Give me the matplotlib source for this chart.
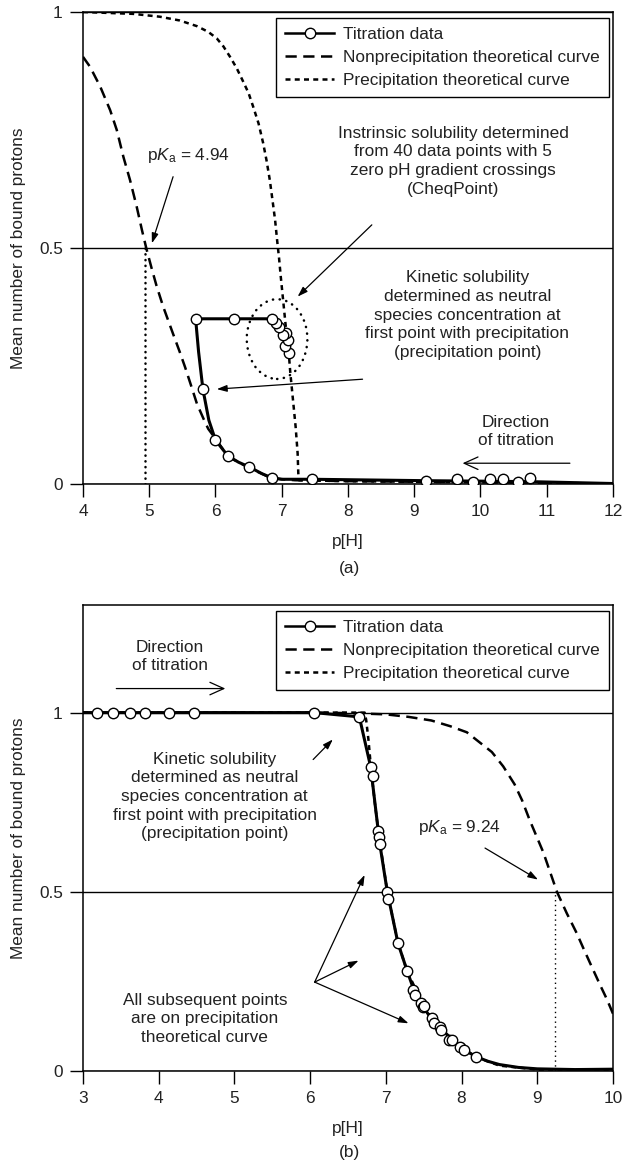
import numpy as np
import matplotlib as mpl
mpl.use('Agg')
import matplotlib.pyplot as plt
from matplotlib.lines import Line2D
from matplotlib.patches import Ellipse

plt.rcParams['font.family'] = ['Liberation Sans', 'DejaVu Sans']
plt.rcParams['mathtext.fontset'] = 'custom'
plt.rcParams['mathtext.rm'] = 'Liberation Sans'
plt.rcParams['mathtext.it'] = 'Liberation Sans:italic'

TXT = '#222222'
FS = 12.4
LSP = 1.3

# ---- panel (a) ----
a_pts_x = [10.75, 10.56, 10.34, 10.15, 9.89, 9.65, 9.18, 7.46,
           7.11, 7.05, 7.10, 7.06, 7.02, 6.96, 6.91, 6.85,
           6.28, 5.70, 5.81, 6.00, 6.19, 6.51, 6.85]
a_pts_y = [0.013, 0.004, 0.011, 0.011, 0.004, 0.011, 0.007, 0.011,
           0.278, 0.292, 0.305, 0.319, 0.315, 0.333, 0.342, 0.350,
           0.350, 0.350, 0.201, 0.093, 0.059, 0.036, 0.013]

a_line_x = [7.11, 7.10, 7.06, 6.96, 6.91, 6.85, 6.28, 5.70, 5.745, 5.81, 5.90, 6.00,
            6.19, 6.35, 6.51, 6.70, 6.85, 7.00, 7.46, 9.18, 10.0, 10.75, 12.0]
a_line_y = [0.278, 0.305, 0.319, 0.333, 0.342, 0.350, 0.350, 0.350, 0.28, 0.201, 0.135, 0.093,
            0.059, 0.046, 0.036, 0.022, 0.013, 0.010, 0.010, 0.007, 0.006, 0.005, 0.001]

a_nonp_x = [4.0, 4.106, 4.26, 4.41, 4.51, 4.61, 4.71, 4.81, 4.89, 4.96, 5.04, 5.11,
            5.21, 5.36, 5.46, 5.54, 5.64, 5.72, 5.82, 5.89, 6.02,
            6.19, 6.51, 6.85, 7.2, 8.0, 12.0]
a_nonp_y = [0.905, 0.884, 0.842, 0.792, 0.750, 0.693, 0.644, 0.588, 0.538, 0.497, 0.455, 0.420,
            0.376, 0.318, 0.280, 0.248, 0.205, 0.170, 0.138, 0.117, 0.092,
            0.058, 0.034, 0.012, 0.008, 0.006, 0.001]

a_prec_x = [4.0, 4.76, 5.16, 5.46, 5.72, 5.89, 6.02, 6.12, 6.22, 6.32, 6.42, 6.50,
            6.57, 6.65, 6.72, 6.77, 6.82, 6.86, 6.90, 6.93, 6.96, 6.985, 7.01,
            7.035, 7.06, 7.10, 7.13, 7.17, 7.21, 7.24, 7.25, 7.26, 8.0, 12.0]
a_prec_y = [1.0, 0.996, 0.990, 0.982, 0.970, 0.958, 0.944, 0.927, 0.905, 0.881, 0.852, 0.828,
            0.799, 0.764, 0.722, 0.686, 0.644, 0.602, 0.559, 0.517, 0.478, 0.440, 0.405,
            0.370, 0.335, 0.288, 0.235, 0.178, 0.121, 0.065, 0.023, 0.008, 0.006, 0.001]

a_pka = 4.94

# ---- panel (b) ----
b_pts_x = [3.18, 3.40, 3.62, 3.82, 4.14, 4.47, 6.05, 6.65, 6.80, 6.83, 6.90, 6.91, 6.92,
           7.02, 7.03, 7.16, 7.28, 7.36, 7.39, 7.47, 7.49, 7.51, 7.61, 7.63, 7.72, 7.73,
           7.83, 7.88, 7.98, 8.03, 8.19]
b_pts_y = [1.0, 1.0, 1.0, 1.0, 1.0, 1.0, 1.0, 0.988, 0.848, 0.822, 0.670, 0.654, 0.634,
           0.499, 0.480, 0.357, 0.280, 0.226, 0.212, 0.189, 0.178, 0.180, 0.149, 0.133, 0.124, 0.115,
           0.087, 0.087, 0.068, 0.059, 0.040]

b_line_x = [3.0, 6.05, 6.65, 6.80, 6.92, 7.02, 7.16, 7.28, 7.38, 7.49, 7.62, 7.73, 7.88,
            8.03, 8.19, 8.35, 8.5, 8.75, 9.0, 9.5, 10.0]
b_line_y = [1.0, 1.0, 0.988, 0.848, 0.634, 0.499, 0.357, 0.280, 0.220, 0.180, 0.140, 0.118, 0.087,
            0.060, 0.040, 0.027, 0.018, 0.010, 0.006, 0.004, 0.005]

b_nonp_x = [6.1, 6.6, 7.0, 7.3, 7.6, 7.85, 8.07, 8.25, 8.4, 8.55, 8.7, 8.8, 8.9, 9.0, 9.08,
            9.17, 9.26, 9.39, 9.52, 9.61, 9.70, 9.83, 9.92, 10.0]
b_nonp_y = [1.0, 0.998, 0.995, 0.988, 0.978, 0.962, 0.945, 0.915, 0.89, 0.85, 0.80, 0.755,
            0.70, 0.65, 0.61, 0.555, 0.50, 0.44, 0.385, 0.342, 0.30, 0.24, 0.20, 0.16]

b_prec_x = [3.0, 6.72, 6.74, 6.77, 6.81, 6.86, 6.92, 7.02, 7.16, 7.28, 7.5, 7.7, 8.0, 8.2,
            8.5, 9.0, 10.0]
b_prec_y = [1.0, 1.0, 0.980, 0.925, 0.832, 0.738, 0.640, 0.50, 0.357, 0.28, 0.18, 0.12, 0.065, 0.038,
            0.015, 0.004, 0.003]

b_pka = 9.24

legend_labels = ['Titration data', 'Nonprecipitation theoretical curve',
                 'Precipitation theoretical curve']

LW = 1.8
DASH_LONG = (4.5, 2.6)
DASH_SHORT = (2.0, 1.7)
HEAD = '-|>,head_length=0.6,head_width=0.2'


def style_axes(ax, xlim, ylim, xticks):
    ax.set_xlim(*xlim)
    ax.set_ylim(*ylim)
    ax.set_xticks(xticks)
    ax.set_xticklabels([str(t) for t in xticks])
    ax.set_yticks([0, 0.5, 1])
    ax.set_yticklabels(['0', '0.5', '1'])
    ax.tick_params(direction='out', length=9.5, width=1, colors='black',
                   labelcolor=TXT, labelsize=FS, pad=5)
    for s in ax.spines.values():
        s.set_linewidth(1.1)
    ax.yaxis.grid(True, color='black', lw=1.0)
    ax.set_axisbelow(True)
    ax.set_xlabel('p[H]', fontsize=FS, color=TXT, labelpad=11)
    ax.set_ylabel('Mean number of bound protons', fontsize=FS, color=TXT, labelpad=9)


def add_legend(ax):
    h = [Line2D([], [], color='black', lw=LW, marker='o', markersize=7.5,
                markerfacecolor='white', markeredgecolor='black', markeredgewidth=1),
         Line2D([], [], color='black', lw=LW, dashes=DASH_LONG),
         Line2D([], [], color='black', lw=LW, dashes=DASH_SHORT)]
    leg = ax.legend(h, legend_labels, loc='upper right', bbox_to_anchor=(0.993, 0.988),
                    borderaxespad=0, fontsize=FS, fancybox=False, framealpha=1,
                    edgecolor='black', handlelength=2.85, handletextpad=0.52,
                    labelspacing=0.45, borderpad=0.55)
    leg.get_frame().set_linewidth(1.0)
    for t in leg.get_texts():
        t.set_color(TXT)


def arrow(ax, xy, xytext, style=HEAD):
    ax.annotate('', xy=xy, xytext=xytext,
                arrowprops=dict(arrowstyle=style, lw=0.9, color='black',
                                shrinkA=0, shrinkB=0))


fig = plt.figure(figsize=(6.23, 11.64), dpi=100)

# ---------------- (a) ----------------
ax = fig.add_axes([0.1332, 0.5842, 0.8507, 0.4055])
style_axes(ax, (4, 12), (0, 1), [4, 5, 6, 7, 8, 9, 10, 11, 12])

ax.plot(a_nonp_x, a_nonp_y, color='black', lw=LW, dashes=DASH_LONG, zorder=3)
ax.plot(a_prec_x, a_prec_y, color='black', lw=LW, dashes=DASH_SHORT, zorder=3)
ax.plot([a_pka, a_pka], [0, 0.5], color='black', lw=1.8, ls=(0, (0.1, 2.2)),
        dash_capstyle='round', zorder=3)
ax.plot(a_line_x, a_line_y, color='black', lw=LW + 0.4, zorder=4)
ax.plot(a_pts_x, a_pts_y, ls='none', marker='o', markersize=7.5, markerfacecolor='white',
        markeredgecolor='black', markeredgewidth=1, zorder=5)

ax.add_patch(Ellipse((6.93, 0.307), 0.915, 0.169, fill=False, lw=1.8,
                     ls=(0, (0.1, 2.6)), capstyle='round', zorder=3))

ax.text(5.59, 0.697, r'p$K_{\mathrm{a}}$ = 4.94', fontsize=FS, color=TXT,
        ha='center', va='center')
arrow(ax, (5.04, 0.510), (5.36, 0.651))
ax.text(9.585, 0.684, 'Instrinsic solubility determined\nfrom 40 data points with 5\n'
        'zero pH gradient crossings\n(CheqPoint)', fontsize=FS, color=TXT,
        ha='center', va='center', linespacing=LSP)
arrow(ax, (7.24, 0.397), (8.36, 0.549))
ax.text(9.80, 0.358, 'Kinetic solubility\ndetermined as neutral\nspecies concentration at\n'
        'first point with precipitation\n(precipitation point)', fontsize=FS, color=TXT,
        ha='center', va='center', linespacing=LSP)
arrow(ax, (6.02, 0.201), (8.22, 0.222))
ax.text(10.54, 0.111, 'Direction\nof titration', fontsize=FS, color=TXT,
        ha='center', va='center', linespacing=LSP)
arrow(ax, (9.73, 0.044), (11.35, 0.044), '->,head_length=1.0,head_width=0.45')
add_legend(ax)

# ---------------- (b) ----------------
ax = fig.add_axes([0.1332, 0.0799, 0.8507, 0.4003])
style_axes(ax, (3, 10), (0, 1.3), [3, 4, 5, 6, 7, 8, 9, 10])

ax.plot(b_nonp_x, b_nonp_y, color='black', lw=LW, dashes=DASH_LONG, zorder=3)
ax.plot(b_prec_x, b_prec_y, color='black', lw=LW, dashes=DASH_SHORT, zorder=3)
ax.plot([b_pka, b_pka], [0, 0.5], color='black', lw=1.0, ls=(0, (1, 2.5)), zorder=3)
ax.plot(b_line_x, b_line_y, color='black', lw=LW + 0.4, zorder=4)
ax.plot(b_pts_x, b_pts_y, ls='none', marker='o', markersize=7.5, markerfacecolor='white',
        markeredgecolor='black', markeredgewidth=1, zorder=5)

ax.text(4.15, 1.156, 'Direction\nof titration', fontsize=FS, color=TXT,
        ha='center', va='center', linespacing=LSP)
arrow(ax, (4.88, 1.067), (3.44, 1.067), '->,head_length=1.0,head_width=0.45')
ax.text(4.74, 0.766, 'Kinetic solubility\ndetermined as neutral\nspecies concentration at\n'
        'first point with precipitation\n(precipitation point)', fontsize=FS, color=TXT,
        ha='center', va='center', linespacing=LSP)
arrow(ax, (6.30, 0.925), (6.04, 0.869))
ax.text(7.97, 0.68, r'p$K_{\mathrm{a}}$ = 9.24', fontsize=FS, color=TXT,
        ha='center', va='center')
arrow(ax, (9.01, 0.534), (8.31, 0.622))
ax.text(4.61, 0.146, 'All subsequent points\nare on precipitation\ntheoretical curve',
        fontsize=FS, color=TXT, ha='center', va='center', linespacing=LSP)
for tx, ty in [(6.72, 0.547), (6.64, 0.308), (7.30, 0.133)]:
    arrow(ax, (tx, ty), (6.06, 0.248))
add_legend(ax)

fig.text(350 / 623, 1 - 568 / 1164, '(a)', fontsize=FS, color=TXT, ha='center', va='center')
fig.text(349 / 623, 1 - 1153 / 1164, '(b)', fontsize=FS, color=TXT, ha='center', va='center')

plt.savefig('out.png', dpi=100, facecolor='white')
